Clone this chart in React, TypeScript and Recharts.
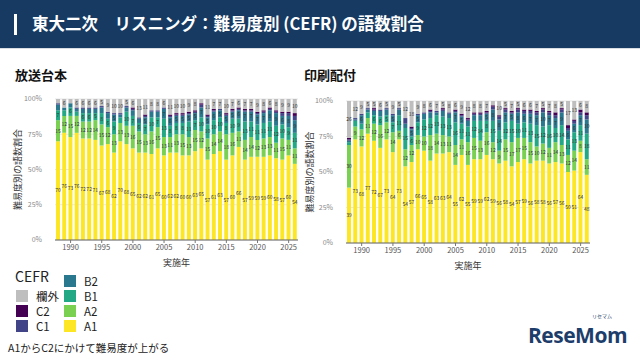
import React from 'react';
import { BarChart, Bar, XAxis, YAxis, CartesianGrid, LabelList } from 'recharts';

// 実施年 1988-2026
const YEARS = [
  1988, 1989, 1990, 1991, 1992, 1993, 1994, 1995, 1996, 1997, 1998, 1999, 2000,
  2001, 2002, 2003, 2004, 2005, 2006, 2007, 2008, 2009, 2010, 2011, 2012, 2013,
  2014, 2015, 2016, 2017, 2018, 2019, 2020, 2021, 2022, 2023, 2024, 2025, 2026,
];
const X_TICKS = [1990, 1995, 2000, 2005, 2010, 2015, 2020, 2025];
const Y_TICKS = [0, 25, 50, 75, 100];

// 放送台本 (%)
const BC_A1 = [70, 76, 73, 76, 72, 72, 71, 67, 68, 62, 70, 68, 65, 62, 62, 61, 65, 60, 62, 62, 60, 60, 63, 65, 57, 61, 63, 57, 60, 66, 57, 59, 59, 59, 60, 58, 57, 60, 54];
const BC_A2 = [15, 12, 15, 12, 12, 12, 14, 15, 12, 13, 13, 13, 16, 15, 13, 16, 15, 13, 11, 13, 15, 13, 15, 12, 15, 14, 14, 18, 16, 11, 14, 14, 12, 13, 13, 11, 15, 11, 11];
const BC_B1 = [7, 4, 6, 3, 6, 6, 5, 8, 6, 9, 4, 10, 7, 6, 7, 10, 7, 13, 8, 8, 8, 11, 7, 10, 10, 10, 10, 8, 10, 9, 13, 11, 11, 11, 11, 12, 10, 9, 11];
const BC_B2 = [4, 2, 3, 2, 3, 3, 3, 4, 4, 5, 2, 3, 4, 3, 5, 4, 4, 7, 6, 5, 5, 5, 5, 7, 5, 6, 5, 5, 5, 6, 7, 7, 7, 7, 8, 9, 6, 8, 9];
const BC_C1 = [1, 0, 0, 1, 1, 1, 1, 1, 1, 1, 1, 1, 1, 1, 1, 1, 1, 1, 1, 1, 1, 1, 1, 2, 1, 1, 1, 1, 1, 1, 1, 1, 1, 1, 1, 1, 2, 2, 3];
const BC_C2 = [0, 0, 0, 0, 0, 0, 0, 0, 0, 0, 0, 0, 1, 0, 1, 0, 0, 0, 1, 1, 1, 1, 1, 1, 1, 1, 0, 1, 1, 1, 1, 1, 1, 1, 1, 1, 1, 1, 2];
const BC_EX = [3, 6, 3, 6, 6, 6, 6, 5, 9, 10, 10, 5, 6, 13, 11, 8, 8, 6, 11, 10, 10, 9, 8, 3, 11, 7, 7, 10, 7, 6, 7, 7, 9, 8, 6, 8, 9, 9, 10];

// 印刷配付 (%)
const PR_A1 = [39, 73, 68, 77, 72, 67, 73, 64, 73, 54, 57, 66, 65, 58, 63, 63, 64, 55, 62, 55, 59, 59, 62, 59, 56, 58, 54, 57, 59, 56, 58, 58, 56, 57, 56, 50, 51, 64, 48];
const PR_A2 = [30, 9, 12, 11, 12, 16, 12, 14, 6, 12, 12, 10, 10, 18, 14, 13, 11, 14, 11, 16, 15, 13, 16, 12, 9, 15, 17, 17, 15, 15, 10, 12, 11, 14, 13, 12, 14, 8, 11];
const PR_B1 = [2, 4, 4, 4, 6, 6, 5, 7, 11, 15, 6, 9, 12, 12, 13, 13, 13, 16, 11, 11, 12, 14, 8, 15, 14, 12, 15, 10, 11, 13, 15, 12, 16, 10, 14, 11, 13, 11, 18];
const PR_B2 = [1, 1, 6, 2, 3, 4, 4, 5, 4, 3, 5, 5, 4, 4, 2, 4, 3, 7, 5, 4, 4, 4, 5, 8, 8, 7, 5, 8, 6, 7, 7, 10, 7, 7, 9, 6, 6, 7, 10];
const PR_C1 = [1, 1, 1, 1, 1, 1, 1, 1, 1, 4, 1, 1, 1, 1, 1, 1, 1, 1, 1, 1, 1, 1, 1, 2, 2, 2, 1, 2, 2, 2, 2, 2, 2, 2, 2, 2, 2, 2, 3];
const PR_C2 = [1, 0, 0, 0, 1, 0, 0, 0, 0, 0, 1, 0, 0, 1, 0, 1, 0, 1, 1, 1, 1, 1, 1, 1, 1, 1, 1, 1, 1, 1, 1, 1, 1, 2, 1, 2, 1, 2, 2];
const PR_EX = [26, 12, 9, 5, 5, 6, 5, 9, 5, 12, 18, 9, 8, 6, 7, 5, 8, 6, 9, 12, 8, 8, 7, 3, 10, 5, 7, 5, 6, 6, 7, 5, 7, 8, 5, 17, 13, 6, 8];

// 積み上げ順 (下から)
const LEVELS = [
  { key: 'A1', color: '#FDE725' },
  { key: 'A2', color: '#7AD151' },
  { key: 'B1', color: '#22A884' },
  { key: 'B2', color: '#2A788E' },
  { key: 'C1', color: '#414487' },
  { key: 'C2', color: '#440154' },
  { key: '欄外', color: '#BEBEBE' },
];

const FONT = '"Noto Sans CJK JP", "Noto Sans", sans-serif';

const buildRows = (a1, a2, b1, b2, c1, c2, ex) =>
  YEARS.map((year, i) => ({
    year,
    A1: a1[i],
    A2: a2[i],
    B1: b1[i],
    B2: b2[i],
    C1: c1[i],
    C2: c2[i],
    欄外: ex[i],
  }));

const broadcastRows = buildRows(BC_A1, BC_A2, BC_B1, BC_B2, BC_C1, BC_C2, BC_EX);
const printRows = buildRows(PR_A1, PR_A2, PR_B1, PR_B2, PR_C1, PR_C2, PR_EX);

function StackChart({ data, width, height, margin, titleOffset }) {
  return (
    <BarChart width={width} height={height} data={data} margin={margin} barCategoryGap={1}>
      <CartesianGrid vertical={false} stroke="#e6e6e6" />
      <XAxis
        dataKey="year"
        ticks={X_TICKS}
        tick={{ fontSize: 7.5, fill: '#555', fontFamily: FONT }}
        tickLine={{ stroke: '#777' }}
        tickSize={3}
        axisLine={{ stroke: '#666' }}
        height={28}
        label={{ value: '実施年', position: 'insideBottom', offset: 2, fontSize: 9, fill: '#333', fontFamily: FONT }}
      />
      <YAxis
        domain={[0, 100]}
        ticks={Y_TICKS}
        tickFormatter={(v) => `${v}%`}
        tick={{ fontSize: 7, fill: '#888', fontFamily: FONT }}
        tickLine={false}
        tickMargin={7}
        axisLine={false}
        width={55}
        label={{ value: '難易度別の語数割合', angle: -90, position: 'insideLeft', offset: titleOffset, fontSize: 9, fill: '#333', fontFamily: FONT, style: { textAnchor: 'middle' } }}
      />
      {LEVELS.map((l) => (
        <Bar key={l.key} dataKey={l.key} stackId="cefr" fill={l.color} isAnimationActive={false}>
          <LabelList
            dataKey={l.key}
            position="center"
            formatter={(v) => (v >= 5 ? v : '')}
            style={{ fontSize: 5, fill: '#333', fontFamily: FONT }}
          />
        </Bar>
      ))}
    </BarChart>
  );
}

function LegendItem({ color, label, x, y }) {
  return (
    <div style={{ position: 'absolute', left: x, top: y, display: 'flex', alignItems: 'center', height: 12 }}>
      <div style={{ width: 12, height: 12, background: color }} />
      <span style={{ marginLeft: 8, fontSize: 11.5, lineHeight: '12px', color: '#222' }}>{label}</span>
    </div>
  );
}

export default function App() {
  return (
    <div style={{ position: 'absolute', left: 0, top: 0, width: 640, height: 360, background: '#fff', fontFamily: FONT, overflow: 'hidden' }}>
      {/* header */}
      <div style={{ position: 'absolute', left: 0, top: 0, width: 640, height: 48, background: '#163a62', borderBottom: '1px solid #d8dde4' }}>
        <div style={{ position: 'absolute', left: 14, top: 14, width: 3, height: 21, background: '#fff' }} />
        <div style={{ position: 'absolute', left: 32, top: 11, color: '#fff', fontSize: 16.5, fontWeight: 700, whiteSpace: 'pre' }}>
          東大二次　リスニング：難易度別 (CEFR) の語数割合
        </div>
      </div>

      <div style={{ position: 'absolute', left: 15, top: 65, fontSize: 13, fontWeight: 700, color: '#111' }}>放送台本</div>
      <div style={{ position: 'absolute', left: 304, top: 65, fontSize: 13, fontWeight: 700, color: '#111' }}>印刷配付</div>

      <div style={{ position: 'absolute', left: 0, top: 92 }}>
        <StackChart data={broadcastRows} width={305} height={176} margin={{ top: 7, right: 7, bottom: 0, left: 0 }} titleOffset={18} />
      </div>
      <div style={{ position: 'absolute', left: 291, top: 94 }}>
        <StackChart data={printRows} width={309} height={177} margin={{ top: 7, right: 10, bottom: 0, left: 0 }} titleOffset={19} />
      </div>

      {/* legend */}
      <div style={{ position: 'absolute', left: 15, top: 266, fontSize: 14, color: '#222' }}>CEFR</div>
      <LegendItem color="#BEBEBE" label="欄外" x={16} y={290} />
      <LegendItem color="#440154" label="C2" x={16} y={305} />
      <LegendItem color="#414487" label="C1" x={16} y={320} />
      <LegendItem color="#2A788E" label="B2" x={64} y={275} />
      <LegendItem color="#22A884" label="B1" x={64} y={290} />
      <LegendItem color="#7AD151" label="A2" x={64} y={305} />
      <LegendItem color="#FDE725" label="A1" x={64} y={320} />

      <div style={{ position: 'absolute', left: 8, top: 340, fontSize: 10.5, color: '#222' }}>A1からC2にかけて難易度が上がる</div>

      {/* logo */}
      <div style={{ position: 'absolute', left: 592, top: 313, fontSize: 5, lineHeight: '6px', color: '#1d3d6b' }}>リセマム</div>
      <div style={{ position: 'absolute', left: 528, top: 321, fontSize: 21, fontWeight: 700, color: '#1d3d6b', fontFamily: '"Open Sans", sans-serif', letterSpacing: -0.5 }}>ReseMom</div>
    </div>
  );
}
